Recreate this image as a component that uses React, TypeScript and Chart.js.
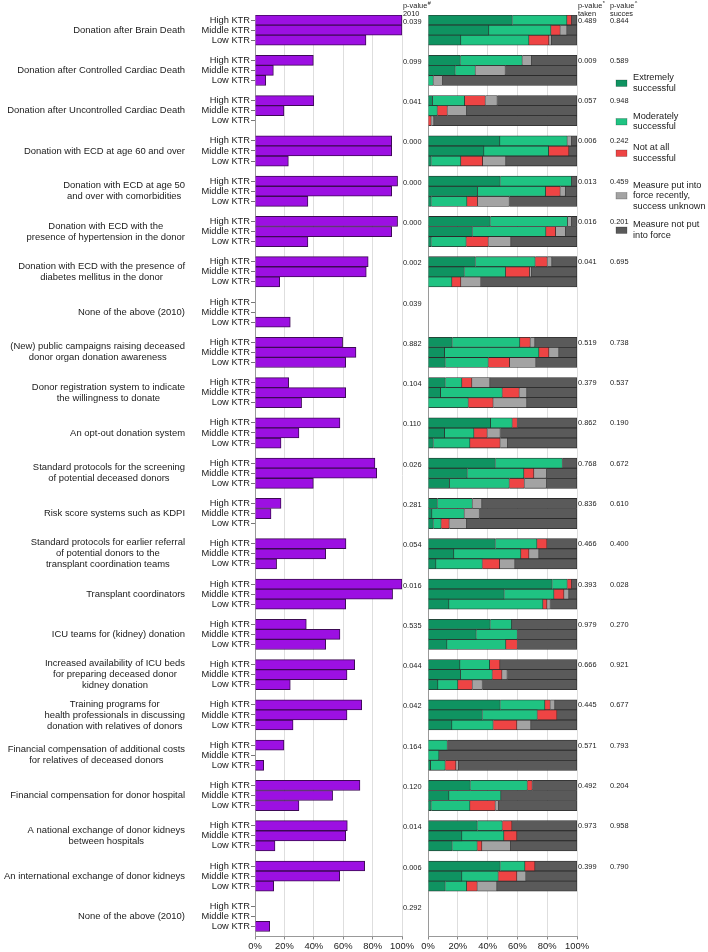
import React, { useEffect, useRef } from 'react';
import { Chart, registerables } from 'chart.js';

Chart.register(...registerables);

const FONT = "'Liberation Sans', Arial, sans-serif";

const measures: string[][] = [
  ['Donation after Brain Death'],
  ['Donation after Controlled Cardiac Death'],
  ['Donation after Uncontrolled Cardiac Death'],
  ['Donation with ECD at age 60 and over'],
  ['Donation with ECD at age 50', 'and over with comorbidities'],
  ['Donation with ECD with the', 'presence of hypertension in the donor'],
  ['Donation with ECD with the presence of', 'diabetes mellitus in the donor'],
  ['None of the above (2010)'],
  ['(New) public campaigns raising deceased', 'donor organ donation awareness'],
  ['Donor registration system to indicate', 'the willingness to donate'],
  ['An opt-out donation system'],
  ['Standard protocols for the screening', 'of potential deceased donors'],
  ['Risk score systems such as KDPI'],
  ['Standard protocols for earlier referral', 'of potential donors to the', 'transplant coordination teams'],
  ['Transplant coordinators'],
  ['ICU teams for (kidney) donation'],
  ['Increased availability of ICU beds', 'for preparing deceased donor', 'kidney donation'],
  ['Training programs for', 'health professionals in discussing', 'donation with relatives of donors'],
  ['Financial compensation of additional costs', 'for relatives of deceased donors'],
  ['Financial compensation for donor hospital'],
  ['A national exchange of donor kidneys', 'between hospitals'],
  ['An international exchange of donor kidneys'],
  ['None of the above (2010)'],
];

const ktrLevels = ['High KTR', 'Middle KTR', 'Low KTR'];

// % of countries that had the measure in 2010
const shareHigh = [100, 39.7, 40, 93, 97, 97, 77, 0, 59.6, 22.9, 57.8, 81.6, 17.7, 61.9, 100, 34.9, 67.8, 72.6, 19.7, 71.4, 62.8, 74.6, 0];
const shareMiddle = [100, 12.5, 19.7, 93, 93, 93, 75.7, 0, 68.7, 61.7, 29.9, 82.8, 10.9, 48.1, 93.6, 57.8, 62.6, 62.6, 0, 52.8, 61.7, 57.6, 0];
const shareLow = [75.5, 7.3, 0, 22.7, 36, 36, 16.8, 24, 61.7, 31.7, 17.7, 39.7, 0, 14.7, 61.7, 48.1, 24, 25.9, 5.9, 29.9, 13.6, 12.7, 10];

const pValue2010 = ['0.039', '0.099', '0.041', '0.000', '0.000', '0.000', '0.002', '0.039', '0.882', '0.104', '0.110', '0.026', '0.281', '0.054', '0.016', '0.535', '0.044', '0.042', '0.164', '0.120', '0.014', '0.006', '0.292'];
const pValueTaken = ['0.489', '0.009', '0.057', '0.006', '0.013', '0.016', '0.041', '', '0.519', '0.379', '0.862', '0.768', '0.836', '0.466', '0.393', '0.979', '0.666', '0.445', '0.571', '0.492', '0.973', '0.399', ''];
const pValueSuccess = ['0.844', '0.589', '0.948', '0.242', '0.459', '0.201', '0.695', '', '0.738', '0.537', '0.190', '0.672', '0.610', '0.400', '0.028', '0.270', '0.921', '0.677', '0.793', '0.204', '0.958', '0.790', ''];

// success of measures: [High, Middle, Low] per measure
const extremely = [
  [56.6, 40.9, 22.1], [21.7, 18.3, 0], [3.1, 0, 0], [48.3, 37.6, 2.2], [48.5, 33.3, 2.2], [41.8, 29.8, 2.2], [31.8, 24.4, 0], [0, 0, 0],
  [16.3, 11.2, 11.6], [11.6, 8.5, 0], [42.1, 11.2, 3.6], [45.2, 26.4, 14.5], [6.3, 2.7, 3.6], [45.2, 17.4, 5.4], [83.4, 51.2, 14.1],
  [41.8, 32.4, 12.8], [21.5, 21.9, 6.7], [48.5, 36.5, 16.1], [0, 0, 1.8], [28.4, 14.1, 2.2], [33.1, 22.8, 16.3], [48.5, 22.8, 11.6], [0, 0, 0],
];
const moderately = [
  [36.7, 41.7, 45.7], [41.6, 13.5, 3.6], [21.5, 6.3, 0], [45.2, 43.4, 19.9], [47.9, 45.7, 24.0], [51.9, 49.4, 23.5], [40.2, 27.7, 16.1], [0, 0, 0],
  [45.4, 63.3, 28.9], [11.2, 41.4, 27.1], [14.5, 19.7, 24.6], [45.0, 38.0, 40.1], [23.5, 21.7, 5.3], [28.0, 45.0, 31.1], [10.1, 33.4, 63.1],
  [14.4, 27.6, 39.5], [19.9, 21.3, 13.4], [30.0, 36.9, 27.7], [13.0, 7.4, 9.8], [38.3, 34.9, 26.0], [16.8, 28.2, 16.8], [16.6, 24.4, 14.4], [0, 0, 0],
];
const notAtAll = [
  [3.1, 6.2, 13.4], [0, 0, 0], [13.9, 6.7, 2.2], [0, 13.6, 14.6], [0, 9.8, 7.1], [0, 6.5, 14.8], [8.1, 16.1, 6.0], [0, 0, 0],
  [7.0, 6.7, 14.3], [6.7, 11.4, 16.7], [3.4, 8.9, 20.3], [0, 6.7, 10.1], [0, 0, 5.4], [6.7, 5.4, 11.6], [2.9, 6.7, 2.7],
  [0, 0, 7.7], [6.9, 6.5, 9.7], [3.6, 13.2, 15.9], [0, 0, 7.2], [3.3, 0, 17.0], [6.5, 8.7, 3.1], [6.7, 12.5, 7.1], [0, 0, 0],
];
const recentUnknown = [
  [0, 4.5, 1.8], [6.3, 20.1, 6.2], [8.0, 13.0, 1.8], [2.9, 0, 15.6], [0, 3.6, 21.3], [2.7, 6.7, 15.2], [3.1, 1.4, 13.5], [0, 0, 0],
  [3.1, 6.7, 17.7], [12.1, 5.1, 22.6], [0, 8.7, 5.0], [0, 8.5, 14.9], [6.4, 10.1, 11.7], [0, 6.7, 10.3], [0, 3.3, 2.2],
  [0, 0, 0], [0, 3.5, 6.7], [3.1, 0, 9.4], [0, 0, 1.8], [0, 0, 2.2], [0, 0, 19.3], [0, 6.1, 13.2], [0, 0, 0],
];
const notPut = [
  [3.6, 6.7, 17.0], [30.4, 48.1, 90.2], [53.5, 74.0, 96.0], [3.6, 5.4, 47.7], [3.6, 7.6, 45.4], [3.6, 7.6, 44.3], [16.8, 30.4, 64.4], [0, 0, 0],
  [28.2, 12.1, 27.5], [58.4, 33.6, 33.6], [40.0, 51.5, 46.5], [9.8, 20.4, 20.4], [63.8, 65.5, 74.0], [20.1, 25.5, 41.6], [3.6, 5.4, 17.9],
  [43.8, 40.0, 40.0], [51.7, 46.8, 63.5], [14.8, 13.4, 30.9], [87.0, 92.6, 79.4], [30.0, 51.0, 52.6], [43.6, 40.3, 44.5], [28.2, 34.2, 53.7], [0, 0, 0],
];

const successLabels = [
  ['Extremely', 'successful'],
  ['Moderately', 'successful'],
  ['Not at all', 'successful'],
  ['Measure put into', 'force recently,', 'success unknown'],
  ['Measure not put', 'into force'],
];
const successColors = ['#0f9361', '#1fc382', '#ee4444', '#a3a3a3', '#5a5a5a'];
const legendCenters = [83, 121.5, 153, 195.5, 230];

const SLOTS_PER_GROUP = 4;
const barSlots = measures.flatMap((_, g) => ktrLevels.map((__, l) => g * SLOTS_PER_GROUP + l));

const shareByLevel = [shareHigh, shareMiddle, shareLow];
const successSeries = [extremely, moderately, notAtAll, recentUnknown, notPut];

function yScale(showLabels: boolean): any {
  return {
    type: 'linear',
    reverse: true,
    offset: false,
    min: -0.5,
    max: measures.length * SLOTS_PER_GROUP - 1,
    stacked: true,
    afterBuildTicks: (s: any) => {
      s.ticks = barSlots.map((v) => ({ value: v }));
    },
    afterFit: (s: any) => {
      s.width = showLabels ? 255 : 0;
    },
    ticks: {
      display: showLabels,
      autoSkip: false,
      padding: 1,
      color: '#1a1a1a',
      font: { family: FONT, size: 9.3 },
      callback: (v: any) => ktrLevels[Number(v) % SLOTS_PER_GROUP],
    },
    grid: { display: showLabels, drawOnChartArea: false, tickLength: 4, tickColor: '#777', offset: false },
    border: { display: true, color: '#9a9a9a', width: 1 },
  };
}

function xScale(): any {
  return {
    type: 'linear',
    min: 0,
    max: 100,
    stacked: true,
    afterFit: (s: any) => {
      s.height = 15.5;
    },
    ticks: {
      stepSize: 20,
      padding: 1,
      maxRotation: 0,
      color: '#1a1a1a',
      font: { family: FONT, size: 9.4 },
      callback: (v: any) => v + '%',
    },
    grid: { color: '#dedede', tickLength: 3, tickColor: '#888' },
    border: { display: true, color: '#999', width: 1 },
  };
}

const labelPlugin = {
  id: 'measureLabels',
  afterDraw(chart: any) {
    const ctx = chart.ctx;
    const y = chart.scales.y;
    ctx.save();
    ctx.font = `9.45px ${FONT}`;
    ctx.fillStyle = '#1a1a1a';
    ctx.textAlign = 'center';
    ctx.textBaseline = 'middle';
    const lh = 11;
    measures.forEach((lines, g) => {
      const cy = y.getPixelForValue(g * SLOTS_PER_GROUP + 1);
      const maxW = Math.max(...lines.map((t) => ctx.measureText(t).width));
      const cx = 185 - maxW / 2;
      lines.forEach((t, i) => {
        ctx.fillText(t, cx, cy + (i - (lines.length - 1) / 2) * lh);
      });
    });
    ctx.restore();
  },
};

const OFFSET_RIGHT = 400;

const pValuePlugin = {
  id: 'pValues',
  afterDraw(chart: any) {
    const ctx = chart.ctx;
    const y = chart.scales.y;
    ctx.save();
    ctx.fillStyle = '#1a1a1a';
    ctx.textAlign = 'left';
    ctx.textBaseline = 'middle';
    const small = `7.4px ${FONT}`;
    const sup = `5.5px ${FONT}`;
    const cols = [
      { x: 403 - OFFSET_RIGHT, vals: pValue2010, head: 'p-value', mark: '#', sub: '2010', dy: 1.5 },
      { x: 578 - OFFSET_RIGHT, vals: pValueTaken, head: 'p-value', mark: '*', sub: 'taken', dy: 0.5 },
      { x: 610 - OFFSET_RIGHT, vals: pValueSuccess, head: 'p-value', mark: '^', sub: 'succes', dy: 0.5 },
    ];
    cols.forEach((c) => {
      ctx.font = small;
      ctx.fillText(c.head, c.x, 6);
      const w = ctx.measureText(c.head).width;
      ctx.font = sup;
      ctx.fillText(c.mark, c.x + w + 0.5, 3.5);
      ctx.font = small;
      ctx.fillText(c.sub, c.x, 14);
      c.vals.forEach((v, g) => {
        if (!v) return;
        ctx.fillText(v, c.x, y.getPixelForValue(g * SLOTS_PER_GROUP) + c.dy);
      });
    });

    // legend
    ctx.font = `9.2px ${FONT}`;
    const lh = 10.5;
    successLabels.forEach((lines, i) => {
      const cy = legendCenters[i];
      ctx.fillStyle = successColors[i];
      ctx.fillRect(616 - OFFSET_RIGHT, cy - 3, 11, 6.5);
      ctx.strokeStyle = 'rgba(0,0,0,0.35)';
      ctx.lineWidth = 0.6;
      ctx.strokeRect(616 - OFFSET_RIGHT, cy - 3, 11, 6.5);
      ctx.fillStyle = '#1a1a1a';
      lines.forEach((t, k) => {
        ctx.fillText(t, 633 - OFFSET_RIGHT, cy + (k - (lines.length - 1) / 2) * lh);
      });
    });
    ctx.restore();
  },
};

export default function App() {
  const leftRef = useRef<HTMLCanvasElement>(null);
  const rightRef = useRef<HTMLCanvasElement>(null);

  useEffect(() => {
    Chart.defaults.font.family = FONT;
    const leftData = barSlots.map((slot) => {
      const g = Math.floor(slot / SLOTS_PER_GROUP);
      const l = slot % SLOTS_PER_GROUP;
      const v = shareByLevel[l][g];
      return { x: v > 0 ? v : null, y: slot };
    });
    const left = new Chart(leftRef.current as HTMLCanvasElement, {
      type: 'bar',
      data: {
        datasets: [
          {
            label: 'Measure in 2010',
            data: leftData as any,
            backgroundColor: '#9c10e2',
            borderColor: '#3d0a55',
            borderWidth: 1,
            barPercentage: 1,
            categoryPercentage: 1,
          },
        ],
      },
      options: {
        indexAxis: 'y',
        responsive: false,
        animation: false,
        devicePixelRatio: 1,
        layout: { padding: { left: 0, right: 18, top: 15, bottom: 0 } },
        plugins: { legend: { display: false }, tooltip: { enabled: false } },
        scales: { x: xScale(), y: yScale(true) },
      } as any,
      plugins: [labelPlugin],
    });

    const right = new Chart(rightRef.current as HTMLCanvasElement, {
      type: 'bar',
      data: {
        datasets: successSeries.map((series, si) => ({
          label: successLabels[si].join(' '),
          data: barSlots.map((slot) => {
            const g = Math.floor(slot / SLOTS_PER_GROUP);
            const l = slot % SLOTS_PER_GROUP;
            const v = series[g][l];
            return { x: v > 0 ? v : null, y: slot };
          }) as any,
          backgroundColor: successColors[si],
          borderColor: '#2b2b2b',
          borderWidth: 0.8,
          barPercentage: 1,
          categoryPercentage: 1,
        })),
      },
      options: {
        indexAxis: 'y',
        responsive: false,
        animation: false,
        devicePixelRatio: 1,
        layout: { padding: { left: 28, right: 131, top: 15, bottom: 0 } },
        plugins: { legend: { display: false }, tooltip: { enabled: false } },
        scales: { x: xScale(), y: yScale(false) },
      } as any,
      plugins: [pValuePlugin],
    });

    return () => {
      left.destroy();
      right.destroy();
    };
  }, []);

  return (
    <div style={{ position: 'fixed', left: 0, top: 0, width: 708, height: 952, background: '#fff' }}>
      <canvas ref={leftRef} width={420} height={952} style={{ position: 'absolute', left: 0, top: 0 }} />
      <canvas ref={rightRef} width={308} height={952} style={{ position: 'absolute', left: OFFSET_RIGHT, top: 0 }} />
    </div>
  );
}
